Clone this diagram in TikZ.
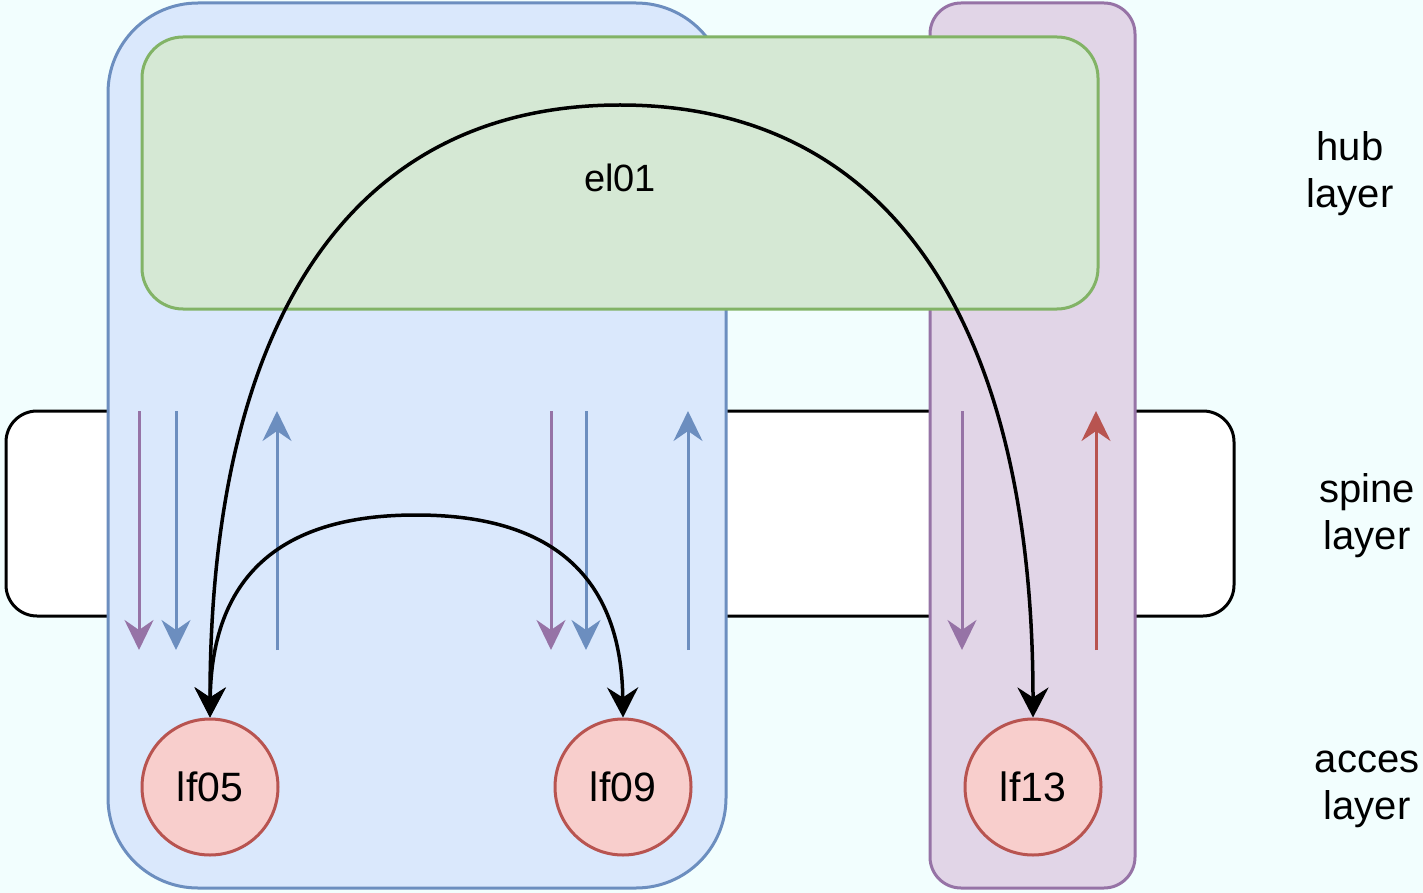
\documentclass[tikz,border=0pt]{standalone}
\usepackage{fontspec}
\setmainfont{Liberation Sans}
\usepackage{tikz}
\usetikzlibrary{arrows.meta,backgrounds}
\definecolor{bgcyan}{HTML}{F2FEFE}
\definecolor{bluefill}{HTML}{DAE8FC}
\definecolor{bluedraw}{HTML}{6C8EBF}
\definecolor{purpfill}{HTML}{E1D5E7}
\definecolor{purpdraw}{HTML}{9673A6}
\definecolor{greenfill}{HTML}{D5E8D4}
\definecolor{greendraw}{HTML}{82B366}
\definecolor{redfill}{HTML}{F8CECC}
\definecolor{reddraw}{HTML}{B85450}

\begin{document}
\begin{tikzpicture}[x=1pt,y=-1pt,
  box/.style={draw,line width=3pt,rounded corners=#1,inner sep=0pt},
  leaf/.style={circle,draw=reddraw,fill=redfill,line width=3pt,minimum size=136pt,inner sep=0pt,font=\fontsize{41}{47}\selectfont},
  lbl/.style={align=center,font=\fontsize{40}{47}\selectfont},
  flow/.style={line width=3pt,-{Stealth[length=30pt,width=29pt,inset=10pt]}},
  link/.style={line width=3.5pt,{Stealth[length=30pt,width=31pt,inset=10pt]}-{Stealth[length=30pt,width=31pt,inset=10pt]}}]
\fill[bgcyan] (0,0) rectangle (1423,893);
\useasboundingbox (0,0) rectangle (1423,893);

\node[box=31pt,fill=white,minimum width=1228pt,minimum height=205pt] (spine) at (620,513.5) {};
\node[box=90pt,draw=bluedraw,fill=bluefill,minimum width=618pt,minimum height=885pt] (pod1) at (417,445.5) {};
\node[box=31pt,draw=purpdraw,fill=purpfill,minimum width=205pt,minimum height=885pt] (pod2) at (1032.5,445.5) {};
\node[box=41pt,draw=greendraw,fill=greenfill,minimum width=956pt,minimum height=272pt] (el01) at (620,173) {};
\node[font=\fontsize{38}{44}\selectfont] (el01txt) at (620,178) {el01};

\node[leaf] (lf05) at (210,787) {lf05};
\node[leaf] (lf09) at (623,787) {lf09};
\node[leaf] (lf13) at (1033,787) {lf13};

\node[lbl] (hublbl) at (1350,174) {hub\\layer};
\node[lbl] (spinelbl) at (1367,516) {spine\\layer};
\node[lbl] (acclbl) at (1367,789) {acces\\layer};

\draw[flow,purpdraw] (139,411) -- (139,650);
\draw[flow,bluedraw] (176,411) -- (176,650);
\draw[flow,bluedraw] (277,650) -- (277,411);
\draw[flow,purpdraw] (551,411) -- (551,650);
\draw[flow,bluedraw] (586,411) -- (586,650);
\draw[flow,bluedraw] (688,650) -- (688,411);
\draw[flow,purpdraw] (962,411) -- (962,650);
\draw[flow,reddraw] (1096,650) -- (1096,411);

\coordinate (hubtop) at (620,105);
\coordinate (spinetop) at (416,515);
\draw[link] (lf05.north) .. controls (210,330) and (345,105) .. (hubtop) .. controls (895,105) and (1033,330) .. (lf13.north);
\draw[link] (lf05.north) .. controls (212,545) and (320,515) .. (spinetop) .. controls (512,515) and (621,545) .. (lf09.north);
\end{tikzpicture}
\end{document}
